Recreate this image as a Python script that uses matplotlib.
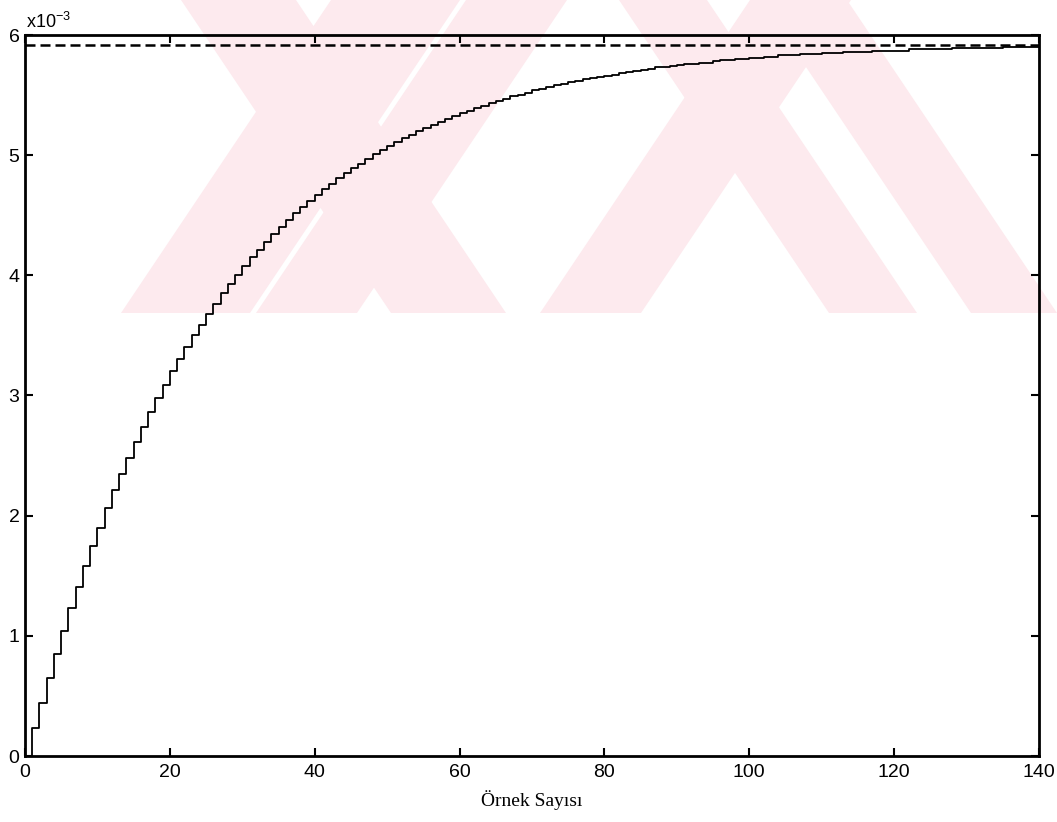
import matplotlib.pyplot as plt
import numpy as np
from matplotlib.patches import Polygon

# ===== data (values in units of 1e-3) =====
samples = np.arange(0, 141)
response = [
    0.00, 0.23, 0.44, 0.65, 0.85, 1.04, 1.23, 1.41, 1.58, 1.75, 1.90,
    2.06, 2.21, 2.35, 2.48, 2.61, 2.74, 2.86, 2.98, 3.09, 3.20,
    3.30, 3.40, 3.50, 3.59, 3.68, 3.76, 3.85, 3.93, 4.00, 4.08,
    4.15, 4.21, 4.28, 4.34, 4.40, 4.46, 4.52, 4.57, 4.62, 4.67,
    4.72, 4.76, 4.81, 4.85, 4.89, 4.93, 4.97, 5.01, 5.04, 5.08,
    5.11, 5.14, 5.17, 5.20, 5.23, 5.25, 5.28, 5.30, 5.33, 5.35,
    5.37, 5.39, 5.41, 5.43, 5.45, 5.47, 5.49, 5.50, 5.52, 5.54,
    5.55, 5.57, 5.58, 5.59, 5.61, 5.62, 5.63, 5.64, 5.65, 5.66,
    5.67, 5.68, 5.69, 5.70, 5.71, 5.72, 5.73, 5.73, 5.74, 5.75,
    5.76, 5.76, 5.77, 5.77, 5.78, 5.79, 5.79, 5.80, 5.80, 5.81,
    5.81, 5.82, 5.82, 5.83, 5.83, 5.83, 5.84, 5.84, 5.84, 5.85,
    5.85, 5.85, 5.86, 5.86, 5.86, 5.86, 5.87, 5.87, 5.87, 5.87,
    5.87, 5.88, 5.88, 5.88, 5.88, 5.88, 5.88, 5.89, 5.89, 5.89,
    5.89, 5.89, 5.89, 5.89, 5.90, 5.90, 5.90, 5.90, 5.90, 5.90,
]
target_level = 5.92
xticks = [0, 20, 40, 60, 80, 100, 120, 140]
yticks = [0, 1, 2, 3, 4, 5, 6]

W, H = 1057, 822

# background watermark bands (pixel x range at top edge -> at cut line)
WM_CUT = 313
wm_bands = [
    ((181, 296), (391, 506)),
    ((331, 460), (121, 250)),
    ((466, 567), (256, 357)),
    ((750, 851), (540, 641)),
    ((619, 707), (829, 917)),
    ((761, 847), (971, 1057)),
]

# ===== figure =====
fig = plt.figure(figsize=(W / 100, H / 100), dpi=100)
for (a, b), (c, d) in wm_bands:
    pts = [(a / W, 1), (b / W, 1), (d / W, 1 - WM_CUT / H), (c / W, 1 - WM_CUT / H)]
    fig.add_artist(Polygon(pts, closed=True, transform=fig.transFigure,
                           facecolor='#fdeaee', edgecolor='none', zorder=-5))

ax = fig.add_axes([25 / W, 1 - 756 / H, 1014 / W, 721 / H])
ax.patch.set_alpha(0)

ax.plot(samples, response, color='black', linewidth=1.3, drawstyle='steps-post')
ax.plot([samples[0], samples[-1]], [target_level, target_level],
        color='black', linewidth=1.8, linestyle=(0, (4, 2)))

ax.set_xlim(0, 140)
ax.set_ylim(0, 6)
ax.set_xticks(xticks)
ax.set_yticks(yticks)
for s in ax.spines.values():
    s.set_linewidth(2.0)

tick_font = {'family': ['Liberation Sans', 'DejaVu Sans'], 'size': 14}
ax.tick_params(direction='in', length=6, width=1.5, top=True, right=True, pad=6)
ax.set_xticklabels([str(t) for t in xticks], fontdict=tick_font)
ax.set_yticklabels([str(t) for t in yticks], fontdict=tick_font)
ax.tick_params(axis='y', pad=4)

ax.text(0.001, 1.004, r'x10$^{\mathregular{-3}}$', transform=ax.transAxes,
        ha='left', va='bottom', fontfamily=['Liberation Sans', 'DejaVu Sans'],
        fontsize=13)

ax.set_xlabel('Örnek Sayısı', fontfamily='Liberation Serif', fontsize=14, labelpad=6)

plt.savefig('out.png', dpi=100)
